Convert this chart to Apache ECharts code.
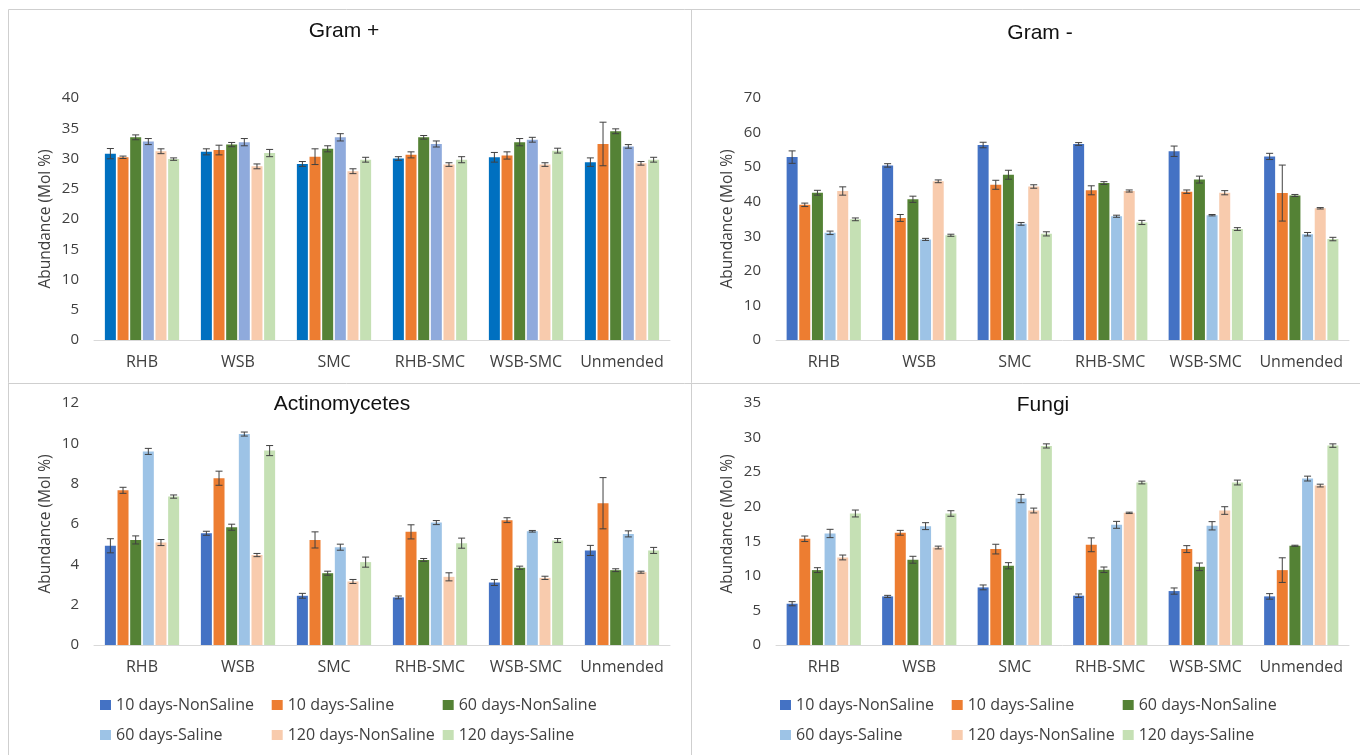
<!DOCTYPE html>
<html>
<head>
<meta charset="utf-8">
<title>Abundance (Mol %)</title>
<script src="https://cdn.jsdelivr.net/npm/echarts@6/dist/echarts.min.js"></script>
<style>
html, body { margin: 0; padding: 0; background: #ffffff; }
#chart { width: 1360px; height: 755px; }
</style>
</head>
<body>
<div id="chart"></div>
<script>
// categories and series
const categories = ['RHB', 'WSB', 'SMC', 'RHB-SMC', 'WSB-SMC', 'Unmended']
const seriesNames = ['10 days-NonSaline', '10 days-Saline', '60 days-NonSaline', '60 days-Saline', '120 days-NonSaline', '120 days-Saline']

// one row per series, one column per category (Mol %)
const gramPosMean = [
  [30.8, 31.1, 29.1, 30.0, 30.2, 29.4],
  [30.2, 31.4, 30.3, 30.6, 30.5, 32.4],
  [33.5, 32.3, 31.6, 33.5, 32.7, 34.5],
  [32.8, 32.7, 33.5, 32.4, 33.1, 32.0],
  [31.2, 28.7, 27.9, 29.0, 29.0, 29.2],
  [29.9, 30.9, 29.8, 29.8, 31.3, 29.8]
]
const gramPosErr = [
  [0.85, 0.5, 0.4, 0.3, 0.8, 0.7],
  [0.2, 0.8, 1.3, 0.5, 0.6, 3.6],
  [0.4, 0.35, 0.5, 0.3, 0.6, 0.4],
  [0.5, 0.6, 0.6, 0.5, 0.4, 0.3],
  [0.4, 0.4, 0.4, 0.3, 0.3, 0.3],
  [0.2, 0.6, 0.4, 0.5, 0.4, 0.4]
]
const gramNegMean = [
  [52.9, 50.5, 56.4, 56.7, 54.6, 53.1],
  [39.1, 35.3, 44.9, 43.3, 42.9, 42.5],
  [42.6, 40.7, 47.8, 45.4, 46.4, 41.8],
  [31.0, 29.1, 33.6, 35.8, 36.1, 30.6],
  [43.1, 45.9, 44.4, 43.1, 42.6, 38.1],
  [34.9, 30.3, 30.7, 34.0, 32.1, 29.2]
]
const gramNegErr = [
  [1.8, 0.5, 0.8, 0.4, 1.5, 0.9],
  [0.5, 1.0, 1.3, 1.3, 0.5, 8.1],
  [0.7, 0.9, 1.3, 0.4, 1.0, 0.3],
  [0.5, 0.3, 0.4, 0.3, 0.2, 0.5],
  [1.2, 0.4, 0.5, 0.3, 0.6, 0.2],
  [0.4, 0.3, 0.6, 0.6, 0.4, 0.5]
]
const actinoMean = [
  [4.92, 5.54, 2.44, 2.36, 3.10, 4.69],
  [7.67, 8.27, 5.21, 5.61, 6.19, 7.03],
  [5.21, 5.84, 3.56, 4.22, 3.83, 3.71],
  [9.60, 10.46, 4.85, 6.07, 5.64, 5.51],
  [5.08, 4.46, 3.15, 3.38, 3.33, 3.61],
  [7.36, 9.64, 4.11, 5.05, 5.18, 4.69]
]
const actinoErr = [
  [0.35, 0.1, 0.12, 0.07, 0.15, 0.25],
  [0.15, 0.35, 0.4, 0.35, 0.12, 1.27],
  [0.2, 0.15, 0.1, 0.07, 0.08, 0.07],
  [0.15, 0.1, 0.15, 0.1, 0.04, 0.15],
  [0.15, 0.08, 0.1, 0.2, 0.08, 0.05],
  [0.08, 0.25, 0.25, 0.25, 0.1, 0.15]
]
const fungiMean = [
  [5.97, 7.03, 8.33, 7.13, 7.8, 7.03],
  [15.36, 16.23, 13.87, 14.49, 13.87, 10.83],
  [10.83, 12.33, 11.46, 10.88, 11.31, 14.35],
  [16.13, 17.19, 21.18, 17.38, 17.24, 24.07],
  [12.66, 14.1, 19.45, 19.11, 19.45, 23.06],
  [19.02, 19.02, 28.79, 23.5, 23.5, 28.84]
]
const fungiErr = [
  [0.3, 0.15, 0.35, 0.25, 0.45, 0.4],
  [0.4, 0.35, 0.7, 1.0, 0.5, 1.78],
  [0.35, 0.5, 0.45, 0.4, 0.55, 0.08],
  [0.6, 0.5, 0.6, 0.5, 0.6, 0.35],
  [0.35, 0.2, 0.35, 0.1, 0.55, 0.2],
  [0.5, 0.4, 0.3, 0.2, 0.35, 0.25]
]

const colors = ['#4472C4', '#ED7D31', '#548235', '#9DC3E6', '#F8CBAD', '#C5E0B4']
const gramPosColors = ['#0070C0', '#ED7D31', '#548235', '#8FAADC', '#F8CBAD', '#C5E0B4']

const BAR_W = 11
const BAR_PITCH = BAR_W * 1.15
const CAP = 3.5
const TEXT = '#404040'
const BORDER = '#CFCFCF'

const panels = [
  {title: 'Gram +', tx: 339, ty: 16, mean: gramPosMean, err: gramPosErr, colors: gramPosColors, max: 40, step: 5,
    grid: {left: 94, top: 98, width: 576, height: 242}},
  {title: 'Gram -', tx: 1035, ty: 18, mean: gramNegMean, err: gramNegErr, colors: colors, max: 70, step: 10,
    grid: {left: 776, top: 98, width: 573, height: 242}},
  {title: 'Actinomycetes', tx: 337, ty: 389, mean: actinoMean, err: actinoErr, colors: colors, max: 12, step: 2,
    grid: {left: 94, top: 403, width: 576, height: 242}},
  {title: 'Fungi', tx: 1038, ty: 390, mean: fungiMean, err: fungiErr, colors: colors, max: 35, step: 5,
    grid: {left: 776, top: 403, width: 573, height: 242}}
]

function renderErr (params, api) {
  let cat = api.value(0)
  let s = api.value(1)
  let v = api.value(2)
  let e = api.value(3)
  let x = api.coord([cat, v])[0] + (s - 2.5) * BAR_PITCH
  let top = api.coord([cat, v + e])[1]
  let bot = api.coord([cat, v - e])[1]
  let style = {stroke: '#404040', lineWidth: 1}
  return {
    type: 'group',
    children: [
      {type: 'line', shape: {x1: x, y1: top, x2: x, y2: bot}, style: style},
      {type: 'line', shape: {x1: x - CAP, y1: top, x2: x + CAP, y2: top}, style: style},
      {type: 'line', shape: {x1: x - CAP, y1: bot, x2: x + CAP, y2: bot}, style: style}
    ]
  }
}

let grids = []
let xAxes = []
let yAxes = []
let titles = []
let series = []

panels.forEach((p, i) => {
  grids.push(p.grid)
  titles.push({
    text: p.title,
    left: p.tx,
    top: p.ty,
    textAlign: 'center',
    textStyle: {fontFamily: 'Liberation Sans', fontSize: 21, fontWeight: 'normal', color: '#111111'}
  })
  xAxes.push({
    type: 'category',
    gridIndex: i,
    data: categories,
    axisLine: {lineStyle: {color: '#D9D9D9', width: 1}},
    axisTick: {show: false},
    axisLabel: {color: TEXT, fontFamily: 'Open Sans', fontSize: 16, margin: 14, interval: 0}
  })
  yAxes.push({
    type: 'value',
    gridIndex: i,
    min: 0,
    max: p.max,
    interval: p.step,
    name: 'Abundance (Mol %)',
    nameLocation: 'middle',
    nameGap: 40,
    nameTextStyle: {color: TEXT, fontFamily: 'Open Sans', fontSize: 15.5},
    axisLine: {show: false},
    axisTick: {show: false},
    splitLine: {show: false},
    axisLabel: {color: TEXT, fontFamily: 'Open Sans', fontSize: 15, margin: 15}
  })
  let errData = []
  p.mean.forEach((row, s) => {
    series.push({
      type: 'bar',
      name: seriesNames[s],
      xAxisIndex: i,
      yAxisIndex: i,
      data: row,
      barWidth: BAR_W,
      barGap: '15%',
      itemStyle: {color: p.colors[s]}
    })
    row.forEach((v, c) => {
      errData.push([c, s, v, p.err[s][c]])
    })
  })
  series.push({
    type: 'custom',
    xAxisIndex: i,
    yAxisIndex: i,
    silent: true,
    z: 5,
    encode: {x: 0, y: 2},
    renderItem: renderErr,
    data: errData
  })
})

// legends under the two bottom panels, three columns by two rows
let legends = []
let legendCols = [100, 271.7, 442.7]
let legendRows = [697, 727]
;[0, 680].forEach(dx => {
  seriesNames.forEach((name, s) => {
    legends.push({
      left: legendCols[s % 3] + dx,
      top: legendRows[Math.floor(s / 3)],
      padding: 0,
      itemWidth: 11,
      itemHeight: 10,
      selectedMode: false,
      icon: 'rect',
      textStyle: {color: TEXT, fontFamily: 'Open Sans', fontSize: 16},
      data: [{name: name, itemStyle: {color: colors[s]}}]
    })
  })
})

let borderStyle = {stroke: BORDER, lineWidth: 1}
let borders = [
  {type: 'line', shape: {x1: 8.5, y1: 9.5, x2: 1360, y2: 9.5}, style: borderStyle},
  {type: 'line', shape: {x1: 8.5, y1: 383.5, x2: 1360, y2: 383.5}, style: borderStyle},
  {type: 'line', shape: {x1: 8.5, y1: 9.5, x2: 8.5, y2: 755}, style: borderStyle},
  {type: 'line', shape: {x1: 691.5, y1: 9.5, x2: 691.5, y2: 755}, style: borderStyle}
]

let chart = echarts.init(document.getElementById('chart'))
chart.setOption({
  animation: false,
  backgroundColor: '#ffffff',
  title: titles,
  grid: grids,
  xAxis: xAxes,
  yAxis: yAxes,
  legend: legends,
  graphic: borders,
  series: series
})
</script>
</body>
</html>
